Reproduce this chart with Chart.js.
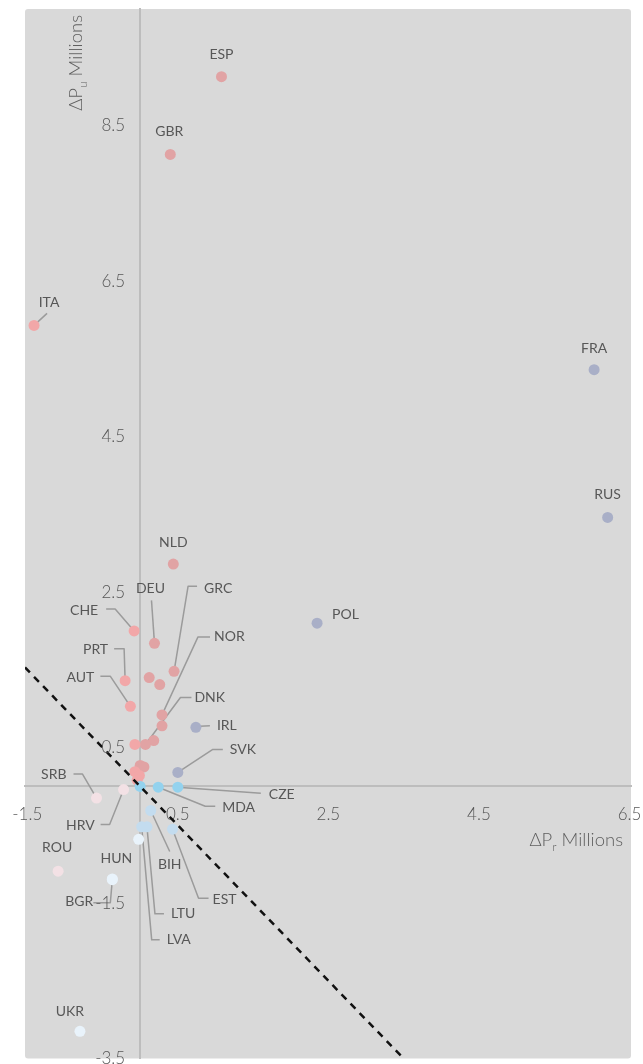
<!DOCTYPE html>
<html>
<head>
<meta charset="utf-8">
<script src="https://cdn.jsdelivr.net/npm/chart.js@4.4.1/dist/chart.umd.min.js"></script>
<style>
  html, body { margin: 0; padding: 0; background: #ffffff; }
  #wrap { width: 643px; height: 1064px; position: relative; }
</style>
</head>
<body>
<div id="wrap"><canvas id="chart"></canvas></div>
<script>
// Change in population by country, millions (ΔPr horizontal, ΔPu vertical)
const countries = ['ESP','GBR','ITA','FRA','RUS','NLD','POL','CHE','DEU','GRC',
  'PRT','','','AUT','NOR','','IRL','','DNK','',
  'SVK','','','','','','','MDA','CZE','SRB',
  'HRV','ROU','HUN','BGR','','BIH','LTU','LVA','EST','UKR'];
const deltaPr = [1.08, 0.40, -1.41, 6.03, 6.21, 0.44, 2.35, -0.08, 0.19, 0.45,
  -0.20, 0.12, 0.26, -0.13, 0.29, 0.29, 0.74, 0.18, 0.07, -0.07,
  0.50, 0.00, 0.05, -0.07, -0.01, -0.04, 0.00, 0.24, 0.50, -0.58,
  -0.22, -1.09, -0.37, -0.37, -0.02, 0.14, 0.09, 0.02, 0.43, -0.80];
const deltaPu = [9.13, 8.13, 5.93, 5.36, 3.46, 2.86, 2.10, 2.00, 1.84, 1.48,
  1.36, 1.40, 1.31, 1.03, 0.92, 0.78, 0.76, 0.59, 0.54, 0.54,
  0.18, 0.27, 0.25, 0.19, 0.14, 0.08, 0.00, -0.01, -0.01, -0.15,
  -0.04, -1.09, -1.19, -1.20, -0.68, -0.31, -0.52, -0.52, -0.55, -3.15];
const classes = ['A','A','B','C','C','A','C','B','A','A',
  'B','A','A','B','A','A','C','A','A','B',
  'C','A','A','B','B','B','D','D','D','G',
  'G','G','F','F','F','E','E','E','E','F'];

// Axis ticks and the ΔPu = −ΔPr reference line
const xTicks = [-1.5, 0.5, 2.5, 4.5, 6.5];
const yTicks = [-3.5, -1.5, 0.5, 2.5, 4.5, 6.5, 8.5];
const parityPr = [-1.53, 3.5];
const parityPu = [1.53, -3.5];

const classColors = {
  A: '#e1a3a4', B: '#f2a7a8', C: '#a9afc7', D: '#93d2ee',
  E: '#c3dcef', F: '#e9f3fb', G: '#f3e1e5'
};

// Label placement in pixels relative to each marker; optional leader polyline
const labelLayout = {
  ESP: { at: [0, -22] },
  GBR: { at: [-1, -23] },
  ITA: { at: [15, -23], path: [[13, -12], [0, 0]] },
  FRA: { at: [0, -21] },
  RUS: { at: [0, -23] },
  NLD: { at: [0, -22] },
  POL: { at: [15, -9], align: 'left' },
  UKR: { at: [-10, -20] },
  ROU: { at: [-1, -24] },
  HUN: { at: [4, -20] },
  CHE: { at: [-36, -20], align: 'right', path: [[-28, -22], [-19, -22], [0, 0]] },
  DEU: { at: [-4, -55], path: [[-3, -43], [0, 0]] },
  GRC: { at: [30, -83], align: 'left', path: [[23, -85], [14, -85], [0, 0]] },
  NOR: { at: [52, -78], align: 'left', path: [[48, -78], [36, -78], [0, 0]] },
  DNK: { at: [49, -47], align: 'left', path: [[46, -47], [35, -47], [0, 0]] },
  PRT: { at: [-17, -31], align: 'right', path: [[-11, -32], [-1, -32], [0, 0]] },
  AUT: { at: [-36, -29], align: 'right', path: [[-30, -30], [-20, -30], [0, 0]] },
  IRL: { at: [21, -2], align: 'left', path: [[14, -1.5], [4, -1]] },
  SVK: { at: [52, -23], align: 'left', path: [[45, -23], [35, -23], [0, 0]] },
  CZE: { at: [91, 7], align: 'left', path: [[83, 6], [0, 0]] },
  MDA: { at: [64, 20], align: 'left', path: [[57, 19], [47, 19], [0, 0]] },
  SRB: { at: [-30, -24], align: 'right', path: [[-23, -24], [-14, -24], [0, 0]] },
  HRV: { at: [-29, 36], align: 'right', path: [[-23, 35], [-14, 35], [0, 0]] },
  BIH: { at: [19, 54], path: [[19, 41], [0, 0]] },
  EST: { at: [40, 70], align: 'left', path: [[36, 69], [26, 69], [0, 0]] },
  LTU: { at: [24, 87], align: 'left', path: [[17, 87], [8, 87], [0, 0]] },
  LVA: { at: [25, 113], align: 'left', path: [[18, 113], [10, 113], [0, 0]] },
  BGR: { at: [-19, 22], align: 'right', path: [[-19, 23], [-2, 23], [0, 0]] }
};

const TEXT = '#575757';
const FONT = 'Lato, "Open Sans", "DejaVu Sans", sans-serif';

const points = countries.map((c, i) => ({ x: deltaPr[i], y: deltaPu[i], name: c }));

function fmt(v) { return v.toFixed(1); }

// Axes sit on the zero lines and take no room in the layout
function flatten(scale) {
  if (scale.isHorizontal()) scale.height = 0; else scale.width = 0;
  scale.paddingLeft = scale.paddingRight = scale.paddingTop = scale.paddingBottom = 0;
}

// Plot panel background
const panelPlugin = {
  id: 'panel',
  beforeDraw(chart) {
    const { ctx, chartArea: a } = chart;
    ctx.save();
    ctx.fillStyle = '#d9d9d9';
    ctx.beginPath();
    ctx.roundRect(a.left, a.top, a.right - a.left, a.bottom - a.top, 3);
    ctx.fill();
    ctx.restore();
  }
};

// Vertical-axis tick labels, set to the left of the ΔPr = 0 line
const yLabelPlugin = {
  id: 'yTickLabels',
  afterDraw(chart) {
    const { ctx, scales } = chart;
    const x0 = scales.x.getPixelForValue(0);
    ctx.save();
    ctx.fillStyle = TEXT;
    ctx.font = '300 17px ' + FONT;
    ctx.textAlign = 'right';
    ctx.textBaseline = 'middle';
    scales.y.ticks.forEach(t => {
      ctx.fillText(fmt(t.value), x0 - 15, scales.y.getPixelForValue(t.value));
    });
    ctx.restore();
  }
};

// Country labels with leader lines, and axis titles with subscripts
const labelPlugin = {
  id: 'countryLabels',
  beforeDatasetsDraw(chart) {
    const { ctx } = chart;
    const meta = chart.getDatasetMeta(1);
    ctx.save();
    ctx.strokeStyle = '#9b9b9b';
    ctx.lineWidth = 1.5;
    ctx.lineJoin = 'round';
    points.forEach((p, i) => {
      const lay = labelLayout[p.name];
      if (!lay || !lay.path) return;
      const el = meta.data[i];
      ctx.beginPath();
      lay.path.forEach(([dx, dy], k) => {
        if (k === 0) ctx.moveTo(el.x + dx, el.y + dy);
        else ctx.lineTo(el.x + dx, el.y + dy);
      });
      ctx.stroke();
    });
    ctx.restore();
  },
  afterDatasetsDraw(chart) {
    const { ctx, scales, chartArea } = chart;
    const meta = chart.getDatasetMeta(1);
    ctx.save();
    ctx.fillStyle = TEXT;
    ctx.font = '400 14px ' + FONT;
    ctx.textBaseline = 'middle';
    points.forEach((p, i) => {
      const lay = labelLayout[p.name];
      if (!lay) return;
      const el = meta.data[i];
      ctx.textAlign = lay.align || 'center';
      ctx.fillText(p.name, el.x + lay.at[0], el.y + lay.at[1]);
    });

    const x0 = scales.x.getPixelForValue(0);
    const y0 = scales.y.getPixelForValue(0);
    const big = '300 18.5px ' + FONT, small = '300 12px ' + FONT;
    const drawTitle = (sub, startX, baseY) => {
      ctx.textAlign = 'left';
      ctx.textBaseline = 'alphabetic';
      ctx.font = big; ctx.fillText('\u0394P', startX, baseY);
      let x = startX + ctx.measureText('\u0394P').width;
      ctx.font = small; ctx.fillText(sub, x, baseY + 5);
      x += ctx.measureText(sub).width;
      ctx.font = big; ctx.fillText(' Millions', x, baseY);
    };
    const titleWidth = (sub) => {
      ctx.font = big;
      let w = ctx.measureText('\u0394P').width + ctx.measureText(' Millions').width;
      ctx.font = small;
      return w + ctx.measureText(sub).width;
    };
    ctx.fillStyle = '#5f5f5f';
    // horizontal title, right-aligned below the zero line
    const wr = titleWidth('r');
    drawTitle('r', chartArea.right - 8 - wr, y0 + 60);
    // vertical title, left of the zero line
    const wu = titleWidth('u');
    ctx.save();
    ctx.translate(x0 - 58, chartArea.top + 6 + wu);
    ctx.rotate(-Math.PI / 2);
    drawTitle('u', 0, 0);
    ctx.restore();
    ctx.restore();
  }
};

const tickFont = { family: FONT, size: 17, weight: 300 };

new Chart(document.getElementById('chart'), {
  type: 'scatter',
  data: {
    datasets: [
      {
        type: 'line',
        data: parityPr.map((v, i) => ({ x: v, y: parityPu[i] })),
        borderColor: '#111111',
        borderWidth: 2.5,
        borderDash: [7, 6],
        pointRadius: 0,
        fill: false,
        order: 0
      },
      {
        data: points,
        pointRadius: 5.5,
        pointHoverRadius: 5.5,
        borderWidth: 0,
        backgroundColor: classes.map(c => classColors[c]),
        order: 1
      }
    ]
  },
  options: {
    responsive: true,
    maintainAspectRatio: false,
    animation: false,
    layout: { padding: { left: 25, right: 12, top: 9, bottom: 5 } },
    plugins: { legend: { display: false }, tooltip: { enabled: false } },
    scales: {
      x: {
        type: 'linear',
        min: -1.53,
        max: 6.52,
        position: { y: 0 },
        afterBuildTicks: s => { s.ticks = xTicks.map(v => ({ value: v })); },
        afterFit: flatten,
        grid: { display: false },
        border: { display: true, color: '#bdbdbd', width: 2 },
        ticks: { padding: 10, color: TEXT, font: tickFont, autoSkip: false, maxRotation: 0, callback: v => fmt(v) }
      },
      y: {
        type: 'linear',
        min: -3.5,
        max: 10,
        position: { x: 0 },
        afterBuildTicks: s => { s.ticks = yTicks.map(v => ({ value: v })); },
        afterFit: flatten,
        grid: { display: false },
        border: { display: true, color: '#bdbdbd', width: 2 },
        ticks: { display: false }
      }
    }
  },
  plugins: [panelPlugin, yLabelPlugin, labelPlugin]
});
</script>
</body>
</html>
